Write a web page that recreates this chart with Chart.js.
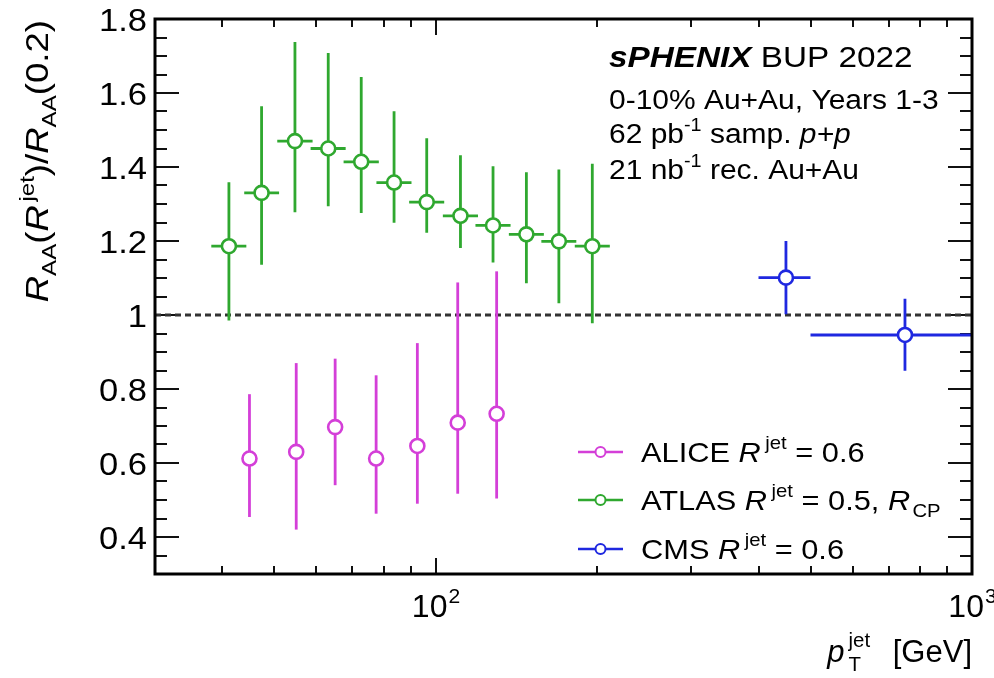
<!DOCTYPE html>
<html><head><meta charset="utf-8">
<script src="https://cdn.jsdelivr.net/npm/chart.js@4.4.1/dist/chart.umd.min.js"></script>
<style>html,body{margin:0;padding:0;background:#fff;}canvas{display:block;}</style>
</head><body>
<canvas id="c" width="994" height="678"></canvas>
<script>
// ---- data ----
const alicePt  = [45, 55, 65, 77.5, 92.5, 110, 130];
const aliceVal = [0.612, 0.630, 0.697, 0.612, 0.646, 0.709, 0.733];
const aliceLo  = [0.454, 0.420, 0.540, 0.463, 0.490, 0.517, 0.504];
const aliceHi  = [0.786, 0.870, 0.882, 0.837, 0.924, 1.088, 1.118];

const atlasPt  = [41.2, 47.4, 54.7, 63.1, 72.7, 83.7, 96.3, 111.3, 128.0, 147.7, 169.8, 196.0];
const atlasXLo = [38.2, 44.0, 50.7, 58.5, 67.4, 77.6, 89.3, 103.2, 118.7, 137.0, 157.5, 181.8];
const atlasXHi = [44.4, 51.1, 59.0, 68.0, 78.4, 90.2, 103.8, 120.0, 138.0, 159.2, 183.0, 211.3];
const atlasVal = [1.186, 1.330, 1.470, 1.450, 1.414, 1.358, 1.305, 1.268, 1.242, 1.218, 1.199, 1.186];
const atlasLo  = [0.985, 1.136, 1.278, 1.294, 1.276, 1.249, 1.222, 1.181, 1.142, 1.086, 1.032, 0.978];
const atlasHi  = [1.359, 1.564, 1.738, 1.708, 1.643, 1.551, 1.478, 1.432, 1.402, 1.386, 1.393, 1.409];

const cmsPt  = [450, 750];
const cmsXLo = [400, 500];
const cmsXHi = [500, 1000];
const cmsVal = [1.101, 0.946];
const cmsLo  = [1.002, 0.849];
const cmsHi  = [1.200, 1.044];

const yMajorTicks = [0.4, 0.6, 0.8, 1.0, 1.2, 1.4, 1.6, 1.8];
const yTickLabels = ['0.4', '0.6', '0.8', '1', '1.2', '1.4', '1.6', '1.8'];
const yMinorTicks = [0.35, 0.45, 0.5, 0.55, 0.65, 0.7, 0.75, 0.85, 0.9, 0.95, 1.05, 1.1, 1.15, 1.25, 1.3, 1.35, 1.45, 1.5, 1.55, 1.65, 1.7, 1.75];
const xMajorTicks = [100, 1000];
const xTickExp = ['2', '3'];
const xMinorTicks = [40, 50, 60, 70, 80, 90, 200, 300, 400, 500, 600, 700, 800, 900];
const refLine = [30, 1000];

const MAG = '#d43fd8', GRN = '#2fa82f', BLU = '#1f28e0';
const FONT = '"Liberation Sans", Arial, Helvetica, sans-serif';

const series = [
  {pt: alicePt, val: aliceVal, lo: aliceLo, hi: aliceHi, col: MAG},
  {pt: atlasPt, val: atlasVal, lo: atlasLo, hi: atlasHi, xlo: atlasXLo, xhi: atlasXHi, col: GRN},
  {pt: cmsPt, val: cmsVal, lo: cmsLo, hi: cmsHi, xlo: cmsXLo, xhi: cmsXHi, col: BLU}
];

// ---- rich text helper ----
function segFont(s, size) {
  const sz = (s.sup || s.sub) ? size * 0.66 : size;
  return (s.it ? 'italic ' : '') + (s.b ? 'bold ' : '') + sz.toFixed(2) + 'px ' + FONT;
}
function segWidth(ctx, s, size) {
  if (s.stack) {
    ctx.font = segFont({sub: 1}, size);
    return Math.max(ctx.measureText(s.stack[0]).width, ctx.measureText(s.stack[1]).width) + (s.pre || 0) + (s.gap || 0);
  }
  ctx.font = segFont(s, size);
  return ctx.measureText(s.t).width + (s.gap || 0);
}
function drawRich(ctx, segs, x, y, o) {
  const size = o.size, sx = o.sx || 1;
  let W = 0;
  const ws = segs.map(s => { const w = segWidth(ctx, s, size); W += w; return w; });
  ctx.save();
  ctx.translate(x, y);
  if (o.rot) ctx.rotate(o.rot);
  ctx.scale(sx, 1);
  ctx.fillStyle = o.color || '#000';
  ctx.textBaseline = 'alphabetic';
  ctx.textAlign = 'left';
  let cx = o.align === 'right' ? -W : (o.align === 'center' ? -W / 2 : 0);
  segs.forEach((s, i) => {
    const pre = s.pre || 0;
    if (s.stack) {
      ctx.font = segFont({sub: 1}, size);
      ctx.fillText(s.stack[1], cx + pre, -0.48 * size); // sup
      ctx.fillText(s.stack[0], cx + pre, 0.30 * size);  // sub
    } else {
      ctx.font = segFont(s, size);
      const dy = s.sup ? -0.45 * size : (s.sub ? 0.25 * size : 0);
      ctx.fillText(s.t, cx + pre, dy);
    }
    cx += ws[i];
  });
  ctx.restore();
}

// ---- plugins ----
const tickPlugin = {
  id: 'ticks',
  beforeDatasetsDraw(chart) {
    const {ctx, chartArea: a, scales: {x, y}} = chart;
    ctx.save();
    ctx.strokeStyle = '#111'; ctx.lineWidth = 2;
    const yT = (v, len) => {
      const py = Math.round(y.getPixelForValue(v));
      ctx.beginPath();
      ctx.moveTo(a.left, py); ctx.lineTo(a.left + len, py);
      ctx.moveTo(a.right, py); ctx.lineTo(a.right - len, py);
      ctx.stroke();
    };
    const xT = (v, len) => {
      const px = Math.round(x.getPixelForValue(v));
      ctx.beginPath();
      ctx.moveTo(px, a.bottom); ctx.lineTo(px, a.bottom - len);
      ctx.moveTo(px, a.top); ctx.lineTo(px, a.top + len);
      ctx.stroke();
    };
    yMajorTicks.forEach(v => yT(v, 24));
    yMinorTicks.forEach(v => yT(v, 12));
    xMajorTicks.forEach(v => xT(v, 16));
    xMinorTicks.forEach(v => xT(v, 8));
    ctx.restore();
  }
};

const errPlugin = {
  id: 'errbars',
  beforeDatasetDraw(chart, args) {
    if (args.index !== 2) return;
    const {ctx, chartArea: a, scales: {x, y}} = chart;
    ctx.save();
    ctx.beginPath(); ctx.rect(a.left, a.top, a.right - a.left, a.bottom - a.top); ctx.clip();
    ctx.lineWidth = 2.8; ctx.lineCap = 'butt';
    series.forEach(s => {
      ctx.strokeStyle = s.col;
      s.pt.forEach((p, i) => {
        const px = x.getPixelForValue(p);
        ctx.beginPath();
        ctx.moveTo(px, y.getPixelForValue(s.lo[i]));
        ctx.lineTo(px, y.getPixelForValue(s.hi[i]));
        if (s.xlo) {
          const py = y.getPixelForValue(s.val[i]);
          ctx.moveTo(x.getPixelForValue(s.xlo[i]), py);
          ctx.lineTo(x.getPixelForValue(s.xhi[i]), py);
        }
        ctx.stroke();
      });
    });
    ctx.restore();
  }
};

const framePlugin = {
  id: 'frame',
  afterDraw(chart) {
    const {ctx, chartArea: a, scales: {x, y}} = chart;
    ctx.save();
    ctx.lineWidth = 3; ctx.strokeStyle = '#000';
    ctx.strokeRect(a.left, a.top, a.right - a.left, a.bottom - a.top);
    ctx.restore();

    // y tick labels
    yMajorTicks.forEach((v, i) => {
      drawRich(ctx, [{t: yTickLabels[i]}], a.left - 8, y.getPixelForValue(v) + 11.5, {size: 32, align: 'right', sx: 1.08});
    });
    // x tick labels
    xMajorTicks.forEach((v, i) => {
      drawRich(ctx, [{t: '10'}, {t: xTickExp[i], sup: 1, pre: 1}], x.getPixelForValue(v), 617, {size: 32, align: 'center'});
    });
    // axis titles
    drawRich(ctx, [{t: 'p', it: 1}, {stack: ['T', 'jet'], pre: 4, gap: 14}, {t: ' [GeV]'}], a.right, 662, {size: 31, align: 'right'});
    drawRich(ctx, [
      {t: 'R', it: 1}, {t: 'AA', sub: 1}, {t: '('}, {t: 'R', it: 1}, {t: 'jet', sup: 1, pre: 3, gap: 3}, {t: ')/'},
      {t: 'R', it: 1}, {t: 'AA', sub: 1}, {t: '(0.2)'}
    ], 48, 20, {size: 31, align: 'right', rot: -Math.PI / 2, sx: 1.18});

    // info text
    drawRich(ctx, [{t: 'sPHENIX', b: 1, it: 1}, {t: ' BUP 2022'}], 609, 67, {size: 30, sx: 1.11});
    drawRich(ctx, [{t: '0-10% Au+Au, Years 1-3'}], 609, 109, {size: 27, sx: 1.11});
    drawRich(ctx, [{t: '62 pb'}, {t: '-1', sup: 1}, {t: ' samp. '}, {t: 'p+p', it: 1}], 609, 143, {size: 27, sx: 1.11});
    drawRich(ctx, [{t: '21 nb'}, {t: '-1', sup: 1}, {t: ' rec. Au+Au'}], 609, 179, {size: 27, sx: 1.11});

    // legend
    const rows = [
      {col: MAG, cy: 452, segs: [{t: 'ALICE '}, {t: 'R', it: 1}, {t: 'jet', sup: 1, pre: 4, gap: 4}, {t: ' = 0.6'}]},
      {col: GRN, cy: 500, segs: [{t: 'ATLAS '}, {t: 'R', it: 1}, {t: 'jet', sup: 1, pre: 4, gap: 4}, {t: ' = 0.5, '}, {t: 'R', it: 1}, {t: 'CP', sub: 1, pre: 2}]},
      {col: BLU, cy: 549, segs: [{t: 'CMS '}, {t: 'R', it: 1}, {t: 'jet', sup: 1, pre: 4, gap: 4}, {t: ' = 0.6'}]}
    ];
    rows.forEach(r => {
      ctx.save();
      ctx.strokeStyle = r.col; ctx.lineWidth = 2.4;
      ctx.beginPath(); ctx.moveTo(578, r.cy); ctx.lineTo(623, r.cy); ctx.stroke();
      ctx.beginPath(); ctx.arc(600.5, r.cy, 5, 0, Math.PI * 2);
      ctx.fillStyle = '#fff'; ctx.fill(); ctx.lineWidth = 2; ctx.stroke();
      ctx.restore();
      drawRich(ctx, r.segs, 641, r.cy + 9.5, {size: 28, sx: 1.1});
    });
  }
};

const mk = (s, label) => ({
  label: label,
  data: s.pt.map((p, i) => ({x: p, y: s.val[i]})),
  showLine: false,
  pointStyle: 'circle',
  pointRadius: 7,
  pointBorderWidth: 2.6,
  pointBorderColor: s.col,
  pointBackgroundColor: '#fff'
});

new Chart(document.getElementById('c'), {
  type: 'scatter',
  data: {
    datasets: [
      mk(series[0], 'ALICE'),
      mk(series[1], 'ATLAS'),
      mk(series[2], 'CMS'),
      {type: 'line', label: 'ref', data: refLine.map(v => ({x: v, y: 1})), borderColor: '#333333',
       borderWidth: 3, borderDash: [6, 4], pointRadius: 0, fill: false}
    ]
  },
  options: {
    responsive: false, animation: false, devicePixelRatio: 1, events: [],
    layout: {padding: {left: 155, right: 22, top: 19, bottom: 104}},
    scales: {
      x: {type: 'logarithmic', min: 30, max: 1000, display: false},
      y: {type: 'linear', min: 0.3, max: 1.8, display: false}
    },
    plugins: {legend: {display: false}, tooltip: {enabled: false}}
  },
  plugins: [tickPlugin, errPlugin, framePlugin]
});
</script>
</body></html>
